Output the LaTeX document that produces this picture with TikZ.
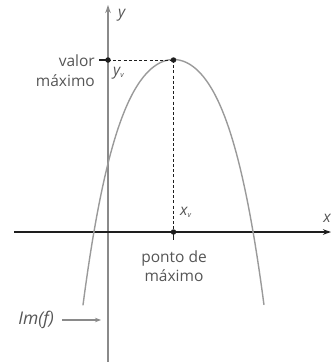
\documentclass[tikz,border=0pt]{standalone}
\usepackage{fontspec}
\setmainfont{Open Sans}
\usetikzlibrary{arrows.meta}
\definecolor{axgray}{HTML}{8A8A8A}
\definecolor{curvegray}{HTML}{9A9A9A}
\definecolor{txtgray}{HTML}{555555}
\definecolor{darkline}{HTML}{1E1E1E}
\begin{document}
\begin{tikzpicture}[x=1pt,y=-1pt,
  lbl/.style={text=txtgray,font=\fontsize{15.5}{19.5}\selectfont,inner sep=0pt},
  mlbl/.style={text=txtgray,font=\fontsize{15.5}{18}\selectfont\itshape,inner sep=0pt},
  guide/.style={darkline,line width=0.9pt,dash pattern=on 3pt off 2.2pt},
  pt/.style={circle,fill=darkline,inner sep=0pt,minimum size=5.5pt},
  tip/.style={-{Stealth[length=8pt,width=5.5pt]}}]
\useasboundingbox (0,0) rectangle (332,362);
% axes
\coordinate (yb) at (108,362);
\coordinate (yt) at (108,5);
\coordinate (xl) at (14,232);
\coordinate (xr) at (331,232);
\draw[axgray,line width=1.8pt,tip] (yb) -- (yt);
\draw[darkline,line width=1.3pt,tip] (xl) -- (xr);
\node[mlbl,anchor=west] (ylab) at (118,15) {y};
\node[mlbl,anchor=east] (xlab) at (331,218) {x};
% parabola
\draw[curvegray,line width=1.4pt,line cap=round] plot[domain=-0.905:0.905,samples=80,smooth]
  ({173.5+100*\x},{59.5+179.3*\x*\x+147*\x*\x*\x*\x});
% key points
\coordinate (V) at (173.5,60);
\coordinate (Y0) at (108,60);
\coordinate (X0) at (173.5,232);
\draw[guide] (Y0) -- (V);
\draw[guide] (V) -- (X0);
\coordinate (tl) at (99,60);
\coordinate (tb) at (173.5,240);
\draw[darkline,line width=1.2pt] (tl) -- (Y0);
\draw[darkline,line width=1.2pt] (X0) -- (tb);
\node[pt] (pV) at (V) {};
\node[pt] (pY) at (Y0) {};
\node[pt] (pX) at (X0) {};
% labels
\node[lbl,anchor=east] (valor) at (95,61) {valor};
\node[lbl,anchor=east] (maximo) at (95,81) {máximo};
\node[mlbl,anchor=west] (yv) at (113,73) {y\textsubscript{\fontsize{7.5}{8}\selectfont v}};
\node[mlbl,anchor=west] (xv) at (180,212) {x\textsubscript{\fontsize{7.5}{8}\selectfont v}};
\node[lbl,align=center] (ponto) at (174,266) {ponto de\\máximo};
\node[mlbl,anchor=east,font=\fontsize{17.5}{20}\selectfont\itshape] (imf) at (54,320) {Im(f)};
\coordinate (ia) at (62,320);
\coordinate (ib) at (101,320);
\draw[axgray,line width=1.2pt,-{Stealth[length=6pt,width=4.5pt]}] (ia) -- (ib);
\end{tikzpicture}
\end{document}
